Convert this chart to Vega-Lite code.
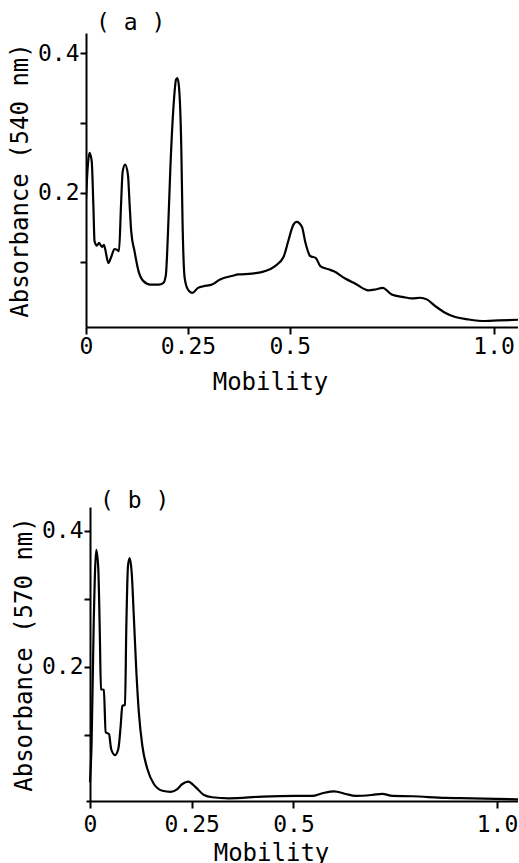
{
  "$schema": "https://vega.github.io/schema/vega-lite/v6.json",
  "padding": {"left": 8, "top": 12, "right": 0, "bottom": 0},
  "background": "white",
  "spacing": 96,
  "config": {
    "font": "DejaVu Sans Mono",
    "view": {"stroke": null},
    "axis": {
      "grid": false,
      "domainColor": "black",
      "domainWidth": 2,
      "tickColor": "black",
      "tickWidth": 2,
      "labelColor": "black",
      "titleColor": "black",
      "labelFont": "DejaVu Sans Mono",
      "titleFont": "DejaVu Sans Mono",
      "labelFontSize": 23,
      "titleFontSize": 24,
      "titleFontWeight": "normal",
      "labelOverlap": false,
      "labelFlush": false
    },
    "title": {"font": "DejaVu Sans Mono", "fontSize": 23, "fontWeight": "normal", "color": "black", "anchor": "start", "frame": "group"}
  },
  "datasets": {
    "a": [
      {"m": 0.0, "abs": 0.19},
      {"m": 0.004, "abs": 0.235},
      {"m": 0.0086, "abs": 0.257},
      {"m": 0.014, "abs": 0.245},
      {"m": 0.018, "abs": 0.183},
      {"m": 0.021, "abs": 0.130},
      {"m": 0.027, "abs": 0.124},
      {"m": 0.032, "abs": 0.128},
      {"m": 0.039, "abs": 0.122},
      {"m": 0.044, "abs": 0.125},
      {"m": 0.047, "abs": 0.119},
      {"m": 0.055, "abs": 0.099},
      {"m": 0.062, "abs": 0.108},
      {"m": 0.070, "abs": 0.119},
      {"m": 0.076, "abs": 0.118},
      {"m": 0.081, "abs": 0.116},
      {"m": 0.086, "abs": 0.183},
      {"m": 0.090, "abs": 0.230},
      {"m": 0.096, "abs": 0.240},
      {"m": 0.103, "abs": 0.225},
      {"m": 0.107, "abs": 0.183},
      {"m": 0.111, "abs": 0.144},
      {"m": 0.119, "abs": 0.116},
      {"m": 0.129, "abs": 0.087},
      {"m": 0.141, "abs": 0.073},
      {"m": 0.158, "abs": 0.068},
      {"m": 0.178, "abs": 0.068},
      {"m": 0.190, "abs": 0.0706},
      {"m": 0.196, "abs": 0.082},
      {"m": 0.201, "abs": 0.140},
      {"m": 0.207, "abs": 0.235},
      {"m": 0.215, "abs": 0.326},
      {"m": 0.221, "abs": 0.362},
      {"m": 0.2245, "abs": 0.364},
      {"m": 0.229, "abs": 0.345},
      {"m": 0.234, "abs": 0.259},
      {"m": 0.237, "abs": 0.155},
      {"m": 0.242, "abs": 0.078},
      {"m": 0.250, "abs": 0.061},
      {"m": 0.261, "abs": 0.056},
      {"m": 0.274, "abs": 0.063},
      {"m": 0.288, "abs": 0.0656},
      {"m": 0.309, "abs": 0.068},
      {"m": 0.329, "abs": 0.0754},
      {"m": 0.358, "abs": 0.0803},
      {"m": 0.374, "abs": 0.0826},
      {"m": 0.407, "abs": 0.0836},
      {"m": 0.440, "abs": 0.0874},
      {"m": 0.464, "abs": 0.0946},
      {"m": 0.485, "abs": 0.108},
      {"m": 0.497, "abs": 0.132},
      {"m": 0.509, "abs": 0.154},
      {"m": 0.517, "abs": 0.158},
      {"m": 0.530, "abs": 0.1507},
      {"m": 0.538, "abs": 0.129},
      {"m": 0.550, "abs": 0.109},
      {"m": 0.564, "abs": 0.106},
      {"m": 0.575, "abs": 0.0946},
      {"m": 0.595, "abs": 0.090},
      {"m": 0.607, "abs": 0.0874},
      {"m": 0.636, "abs": 0.0768},
      {"m": 0.661, "abs": 0.0692},
      {"m": 0.693, "abs": 0.0597},
      {"m": 0.710, "abs": 0.061},
      {"m": 0.728, "abs": 0.0634},
      {"m": 0.750, "abs": 0.0538},
      {"m": 0.779, "abs": 0.0501},
      {"m": 0.800, "abs": 0.0482},
      {"m": 0.820, "abs": 0.0491},
      {"m": 0.836, "abs": 0.0468},
      {"m": 0.857, "abs": 0.0372},
      {"m": 0.881, "abs": 0.0277},
      {"m": 0.906, "abs": 0.0215},
      {"m": 0.939, "abs": 0.018},
      {"m": 0.980, "abs": 0.0158},
      {"m": 1.012, "abs": 0.0166},
      {"m": 1.062, "abs": 0.0176}
    ],
    "b": [
      {"m": 0.0, "abs": 0.03},
      {"m": 0.004, "abs": 0.089},
      {"m": 0.009, "abs": 0.260},
      {"m": 0.0155, "abs": 0.372},
      {"m": 0.0204, "abs": 0.344},
      {"m": 0.0238, "abs": 0.260},
      {"m": 0.027, "abs": 0.167},
      {"m": 0.034, "abs": 0.166},
      {"m": 0.0386, "abs": 0.1035},
      {"m": 0.0467, "abs": 0.101},
      {"m": 0.052, "abs": 0.079},
      {"m": 0.0614, "abs": 0.070},
      {"m": 0.0696, "abs": 0.079},
      {"m": 0.0754, "abs": 0.1132},
      {"m": 0.0795, "abs": 0.1426},
      {"m": 0.086, "abs": 0.1437},
      {"m": 0.0893, "abs": 0.260},
      {"m": 0.0934, "abs": 0.3485},
      {"m": 0.0975, "abs": 0.360},
      {"m": 0.1024, "abs": 0.339},
      {"m": 0.108, "abs": 0.270},
      {"m": 0.114, "abs": 0.192},
      {"m": 0.120, "abs": 0.133},
      {"m": 0.1286, "abs": 0.0838},
      {"m": 0.141, "abs": 0.0496},
      {"m": 0.157, "abs": 0.0275},
      {"m": 0.178, "abs": 0.0176},
      {"m": 0.198, "abs": 0.016},
      {"m": 0.2145, "abs": 0.0201},
      {"m": 0.227, "abs": 0.0275},
      {"m": 0.241, "abs": 0.031},
      {"m": 0.260, "abs": 0.0226},
      {"m": 0.280, "abs": 0.0113},
      {"m": 0.300, "abs": 0.008},
      {"m": 0.3415, "abs": 0.0065},
      {"m": 0.423, "abs": 0.009},
      {"m": 0.505, "abs": 0.010},
      {"m": 0.546, "abs": 0.010},
      {"m": 0.571, "abs": 0.0139},
      {"m": 0.600, "abs": 0.0168},
      {"m": 0.628, "abs": 0.0128},
      {"m": 0.653, "abs": 0.010},
      {"m": 0.694, "abs": 0.0115},
      {"m": 0.718, "abs": 0.013},
      {"m": 0.743, "abs": 0.010},
      {"m": 0.792, "abs": 0.0095},
      {"m": 0.874, "abs": 0.007},
      {"m": 0.939, "abs": 0.0065},
      {"m": 0.997, "abs": 0.0055},
      {"m": 1.052, "abs": 0.005}
    ]
  },
  "vconcat": [
    {
      "width": 432,
      "height": 294,
      "title": {"text": "( a )", "dx": 10, "offset": -2},
      "data": {"name": "a"},
      "mark": {"type": "line", "color": "black", "strokeWidth": 2.2, "interpolate": "monotone", "clip": true},
      "encoding": {
        "x": {
          "field": "m", "type": "quantitative",
          "scale": {"domain": [0, 1.06], "nice": false, "zero": false},
          "axis": {
            "values": [0, 0.25, 0.5, 1.0],
            "format": ".2~f",
            "labelExpr": "datum.value == 0 ? '0' : datum.value == 1 ? '1.0' : datum.label",
            "title": "Mobility",
            "titleX": 184,
            "tickSize": 7,
            "labelPadding": 1,
            "titlePadding": 12
          }
        },
        "y": {
          "field": "abs", "type": "quantitative",
          "scale": {"domain": [0.0072, 0.4287], "nice": false, "zero": false},
          "axis": {
            "values": [0.1, 0.2, 0.3, 0.4],
            "labelExpr": "(datum.value > 0.15 && datum.value < 0.25) || datum.value > 0.35 ? datum.label : ''",
            "title": "Absorbance (540 nm)",
            "tickSize": 6,
            "labelPadding": 1,
            "titlePadding": 5
          }
        }
      }
    },
    {
      "width": 432,
      "height": 294,
      "title": {"text": "( b )", "dx": 14, "offset": -6},
      "data": {"name": "b"},
      "mark": {"type": "line", "color": "black", "strokeWidth": 2.2, "interpolate": "monotone", "clip": true},
      "encoding": {
        "x": {
          "field": "m", "type": "quantitative",
          "scale": {"domain": [-0.0098, 1.0516], "nice": false, "zero": false},
          "axis": {
            "values": [0, 0.25, 0.5, 1.0],
            "format": ".2~f",
            "labelExpr": "datum.value == 0 ? '0' : datum.value == 1 ? '1.0' : datum.label",
            "title": "Mobility",
            "titleX": 185,
            "tickSize": 7,
            "labelPadding": 5,
            "titlePadding": 5
          }
        },
        "y": {
          "field": "abs", "type": "quantitative",
          "scale": {"domain": [0.0025, 0.435], "nice": false, "zero": false},
          "axis": {
            "values": [0.1, 0.2, 0.3, 0.4],
            "offset": -4,
            "labelExpr": "(datum.value > 0.15 && datum.value < 0.25) || datum.value > 0.35 ? datum.label : ''",
            "title": "Absorbance (570 nm)",
            "tickSize": 6,
            "labelPadding": 1,
            "titlePadding": 5
          }
        }
      }
    }
  ]
}
